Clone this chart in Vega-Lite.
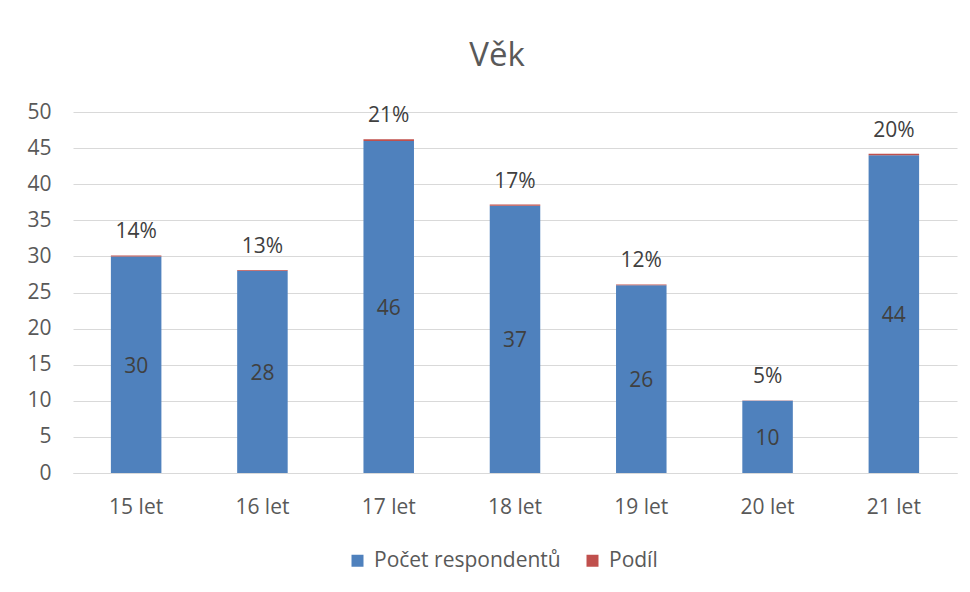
{
  "$schema": "https://vega.github.io/schema/vega-lite/v6.json",
  "width": 884,
  "height": 361,
  "autosize": {"type": "none"},
  "padding": {"left": 73, "top": 112, "right": 13, "bottom": 119},
  "background": "white",
  "config": {"view": {"stroke": null}},
  "title": {"text": "Věk", "fontSize": 33, "font": "Open Sans", "fontWeight": "normal", "color": "#595959", "dx": -18, "offset": 28},
  "data": {"values": [
    {"vek": "15 let", "serie": "Počet respondentů", "hodnota": 30},
    {"vek": "15 let", "serie": "Podíl", "hodnota": 0.1395},
    {"vek": "16 let", "serie": "Počet respondentů", "hodnota": 28},
    {"vek": "16 let", "serie": "Podíl", "hodnota": 0.1302},
    {"vek": "17 let", "serie": "Počet respondentů", "hodnota": 46},
    {"vek": "17 let", "serie": "Podíl", "hodnota": 0.2140},
    {"vek": "18 let", "serie": "Počet respondentů", "hodnota": 37},
    {"vek": "18 let", "serie": "Podíl", "hodnota": 0.1721},
    {"vek": "19 let", "serie": "Počet respondentů", "hodnota": 26},
    {"vek": "19 let", "serie": "Podíl", "hodnota": 0.1209},
    {"vek": "20 let", "serie": "Počet respondentů", "hodnota": 10},
    {"vek": "20 let", "serie": "Podíl", "hodnota": 0.0465},
    {"vek": "21 let", "serie": "Počet respondentů", "hodnota": 44},
    {"vek": "21 let", "serie": "Podíl", "hodnota": 0.2047}
  ]},
  "encoding": {
    "x": {
      "field": "vek", "type": "nominal", "title": null,
      "scale": {"paddingInner": 0.6, "paddingOuter": 0.3},
      "axis": {"labelAngle": 0, "labelFont": "Open Sans", "labelFontSize": 21, "labelColor": "#595959", "labelPadding": 23, "ticks": false, "domainColor": "#d9d9d9", "domainWidth": 1, "grid": false}
    }
  },
  "layer": [
    {
      "mark": {"type": "bar"},
      "encoding": {
        "y": {
          "field": "hodnota", "type": "quantitative", "stack": "zero", "title": null,
          "scale": {"domain": [0, 50]},
          "axis": {"values": [0, 5, 10, 15, 20, 25, 30, 35, 40, 45, 50], "labelOverlap": false, "labelFont": "Open Sans", "labelFontSize": 21, "labelColor": "#595959", "labelPadding": 22, "ticks": false, "domain": false, "gridColor": "#d9d9d9", "gridWidth": 1}
        },
        "color": {
          "field": "serie", "type": "nominal", "title": null,
          "scale": {"domain": ["Počet respondentů", "Podíl"], "range": ["#4f81bd", "#c0504d"]},
          "legend": {"orient": "none", "legendX": 274, "legendY": 438, "direction": "horizontal", "symbolType": "square", "symbolSize": 144, "symbolStrokeWidth": 0, "labelFont": "Open Sans", "labelFontSize": 21, "labelColor": "#595959", "labelOffset": 6, "labelLimit": 400, "columnPadding": 21}
        },
        "order": {"field": "serie", "sort": "descending"}
      }
    },
    {
      "transform": [{"filter": "datum.serie === 'Počet respondentů'"}],
      "mark": {"type": "text", "font": "Open Sans", "fontSize": 21, "color": "#404040", "baseline": "middle", "dy": 2},
      "encoding": {
        "y": {
          "field": "hodnota", "type": "quantitative", "stack": "zero", "bandPosition": 0.5, "title": null,
          "scale": {"domain": [0, 50]},
          "axis": {"values": [0, 5, 10, 15, 20, 25, 30, 35, 40, 45, 50], "labelOverlap": false, "labelFont": "Open Sans", "labelFontSize": 21, "labelColor": "#595959", "labelPadding": 22, "ticks": false, "domain": false, "gridColor": "#d9d9d9", "gridWidth": 1}
        },
        "text": {"field": "hodnota", "type": "quantitative"}
      }
    },
    {
      "transform": [
        {"joinaggregate": [{"op": "sum", "field": "hodnota", "as": "celkem"}], "groupby": ["vek"]},
        {"filter": "datum.serie === 'Podíl'"}
      ],
      "mark": {"type": "text", "font": "Open Sans", "fontSize": 21, "color": "#404040", "baseline": "alphabetic", "dy": -17},
      "encoding": {
        "y": {
          "field": "celkem", "type": "quantitative", "title": null,
          "scale": {"domain": [0, 50]},
          "axis": {"values": [0, 5, 10, 15, 20, 25, 30, 35, 40, 45, 50], "labelOverlap": false, "labelFont": "Open Sans", "labelFontSize": 21, "labelColor": "#595959", "labelPadding": 22, "ticks": false, "domain": false, "gridColor": "#d9d9d9", "gridWidth": 1}
        },
        "text": {"field": "hodnota", "type": "quantitative", "format": ".0%"}
      }
    }
  ]
}
